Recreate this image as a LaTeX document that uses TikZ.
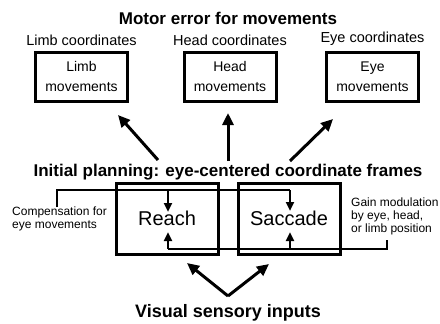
\documentclass[tikz,border=0pt]{standalone}
\usepackage{fontspec}
\setmainfont{Liberation Sans}
\usetikzlibrary{arrows.meta}
\begin{document}
\begin{tikzpicture}[x=1pt,y=-1pt,
  mbox/.style={draw, line width=3pt, minimum width=92pt, minimum height=49pt, align=center, inner sep=0pt, font=\fontsize{14}{20}\selectfont},
  pbox/.style={draw, line width=3pt, minimum width=102pt, minimum height=71pt, inner sep=0pt, font=\fontsize{20}{22}\selectfont},
  lab/.style={inner sep=0pt, font=\fontsize{14.5}{17}\selectfont},
  head/.style={inner sep=0pt, font=\bfseries\fontsize{17}{20}\selectfont},
  small/.style={inner sep=0pt, align=left, font=\fontsize{12}{13}\selectfont},
  bigarrow/.style={line width=3pt, -{Triangle[length=12pt,width=11pt]}},
  hook/.style={line width=2.4pt},
  hookarrow/.style={line width=2.4pt, -{Triangle[length=9pt,width=8pt]}}
]
\useasboundingbox (0,0) rectangle (440,324);

% top section
\node[head] (motor) at (228,18) {Motor error for movements};
\node[mbox] (limb) at (81.5,76.5) {Limb\\movements};
\node[mbox] (headm) at (230,76.5) {Head\\movements};
\node[mbox] (eye) at (372.5,76.5) {Eye\\movements};
\node[lab, anchor=south] (limblab) at (81.5,46) {Limb coordinates};
\node[lab, anchor=south] (headlab) at (230,46) {Head coordinates};
\node[lab, anchor=south] (eyelab) at (372.5,46) {Eye coordinates};

% planning
\node[head] (plan) at (228,172) {Initial planning: eye-centered coordinate frames};

\coordinate (a1s) at (158,160);
\coordinate (a1e) at (118,115);
\coordinate (a2s) at (228,161);
\coordinate (a2e) at (228,113);
\coordinate (a3s) at (290,161);
\coordinate (a3e) at (333,119);
\draw[bigarrow] (a1s) -- (a1e);
\draw[bigarrow] (a2s) -- (a2e);
\draw[bigarrow] (a3s) -- (a3e);

\node[pbox] (reach) at (167,218.5) {Reach};
\node[pbox] (sacc) at (289,218.5) {Saccade};

% compensation
\node[small, anchor=west] (comp) at (12,219) {Compensation for\\eye movements};
\coordinate (c0) at (57,207);
\coordinate (c1) at (57,190);
\coordinate (c2) at (290,190);
\coordinate (cr) at (168,190);
\coordinate (crt) at (168,212);
\coordinate (cst) at (290,211);
\draw[hook] (c0) -- (c1) -- (c2);
\draw[hookarrow] (c2) -- (cst);
\draw[hookarrow] (cr) -- (crt);

% gain modulation
\node[small, anchor=west] (gain) at (351,216) {Gain modulation\\by eye, head,\\or limb position};
\coordinate (g0) at (387,240);
\coordinate (g1) at (387,249);
\coordinate (g2) at (168,249);
\coordinate (gs) at (290,249);
\coordinate (grt) at (168,232);
\coordinate (gst) at (290,232);
\draw[hook] (g0) -- (g1) -- (g2);
\draw[hookarrow] (g2) -- (grt);
\draw[hookarrow] (gs) -- (gst);

% visual inputs
\node[head, font=\bfseries\fontsize{18}{20}\selectfont] (vis) at (228,313) {Visual sensory inputs};
\coordinate (v0) at (228,296);
\coordinate (vl) at (187,263);
\coordinate (vr) at (269,264);
\draw[bigarrow] (v0) -- (vl);
\draw[bigarrow] (v0) -- (vr);
\end{tikzpicture}
\end{document}
